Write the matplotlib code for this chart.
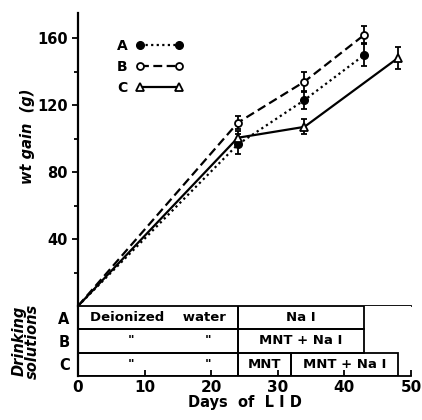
import numpy as np
import matplotlib
matplotlib.use("Agg")
import matplotlib.pyplot as plt
from matplotlib.lines import Line2D

# Dados: ganho de peso (g) por dia de LID
dias_A = [0, 24, 34, 43]
peso_A = [0, 96.5, 123, 150]
erro_A = [0, 6, 5.4, 6.9]

dias_B = [0, 24, 34, 43]
peso_B = [0, 109.5, 134, 162]
erro_B = [0, 4, 6, 5.4]

dias_C = [0, 24, 34, 48]
peso_C = [0, 100.5, 107, 148]
erro_C = [0, 4, 4.5, 6.5]

# Tabela das soluções: (linha, inicio, fim, texto)
linhas_tab = ["A", "B", "C"]
celulas = [
    (0, 0, 24, "Deionized    water"),
    (0, 24, 43, "Na I"),
    (1, 0, 24, ""),
    (1, 24, 43, "MNT + Na I"),
    (2, 0, 24, ""),
    (2, 24, 32, "MNT"),
    (2, 32, 48, "MNT + Na I"),
]
aspas = [(1, 8), (1, 19.5), (2, 8), (2, 19.5)]

plt.rcParams['font.family'] = ['DejaVu Sans']

fig = plt.figure(figsize=(4.22, 4.20), dpi=100)
ax = fig.add_axes([0.1848, 0.2714, 0.789, 0.6976])
axt = fig.add_axes([0.1848, 0.1048, 0.789, 0.1667], sharex=ax)

# Curvas (sem marcador na origem)
series = [
    (dias_A, peso_A, erro_A, 'A', dict(marker='o', ls=(0, (1, 1.5)), ms=5.5, mfc='black')),
    (dias_B, peso_B, erro_B, 'B', dict(marker='o', ls=(0, (4, 2)), ms=5, mfc='white', mew=1.3)),
    (dias_C, peso_C, erro_C, 'C', dict(marker='^', ls='-', ms=6, mfc='white', mew=1.3)),
]
for dias, peso, erro, nome, kw in series:
    ax.errorbar(dias[1:], peso[1:], yerr=erro[1:], fmt='none', ecolor='black',
                elinewidth=1.3, capsize=2.5, capthick=1.3)
    ax.plot(dias, peso, color='black', mec='black', lw=1.6, markevery=[1, 2, 3],
            label=nome, **kw)

ax.set_xlim(0, 50)
ax.set_ylim(0, 175)
ax.set_yticks([40, 80, 120, 160])
ax.set_yticks([20, 60, 100, 140], minor=True)
ax.tick_params(axis='y', which='major', direction='out', length=4, width=1.3,
               labelsize=10.5)
ax.tick_params(axis='y', which='minor', direction='out', length=3, width=1.3)
for lab in ax.get_yticklabels():
    lab.set_fontweight('bold')
ax.tick_params(axis='x', bottom=False, labelbottom=False)
ax.spines['top'].set_visible(False)
ax.spines['right'].set_visible(False)
ax.spines['left'].set_linewidth(1.6)
ax.spines['bottom'].set_linewidth(1.3)
ax.set_ylabel("wt gain  (g)", fontsize=10.5, fontstyle='italic',
              fontweight='bold')
ax.yaxis.set_label_coords(-0.13, 0.58)

# Legenda: só as duas marcas nas pontas
handles = [Line2D([], [], color='black', mec='black', lw=1.6, **kw)
           for *_, kw in series]
leg = ax.legend(handles, [s[3] for s in series], loc='upper left',
                bbox_to_anchor=(0.08, 0.955), frameon=False,
                markerfirst=False, numpoints=2, handlelength=3.4,
                fontsize=10, labelspacing=0.5, handletextpad=0.6)
for t in leg.get_texts():
    t.set_fontweight('bold')

# Tabela
for linha, ini, fim, texto in celulas:
    y = 2 - linha
    axt.barh(y + 0.5, fim - ini, left=ini, height=1, fill=False,
             edgecolor='black', lw=1.3)
    if texto:
        axt.text((ini + fim) / 2, y + 0.5, texto, ha='center', va='center',
                 fontsize=9.5, fontweight='bold')
for linha, x in aspas:
    axt.text(x, 2 - linha + 0.5, '"', ha='center', va='center',
             fontsize=9, fontweight='bold')

axt.set_ylim(0, 3)
axt.set_xticks([0, 10, 20, 30, 40, 50])
axt.set_yticks([2.5, 1.5, 0.5])
axt.set_yticklabels(linhas_tab, fontsize=10.5, fontweight='bold')
axt.tick_params(axis='y', length=0, pad=6)
axt.tick_params(axis='x', direction='in', length=4, width=1.3,
                labelsize=11, pad=3)
for lab in axt.get_xticklabels():
    lab.set_fontweight('bold')
axt.spines['top'].set_visible(False)
axt.spines['right'].set_visible(False)
axt.spines['left'].set_linewidth(1.6)
axt.spines['bottom'].set_linewidth(1.3)
axt.set_xlabel("Days  of  L I D", fontsize=10.5, fontweight='bold', labelpad=0)
axt.set_ylabel("Drinking\nsolutions", fontsize=10.5, fontstyle='italic',
               fontweight='bold', linespacing=0.85)
axt.yaxis.set_label_coords(-0.115, 0.5)

fig.savefig("out.png", dpi=100)
